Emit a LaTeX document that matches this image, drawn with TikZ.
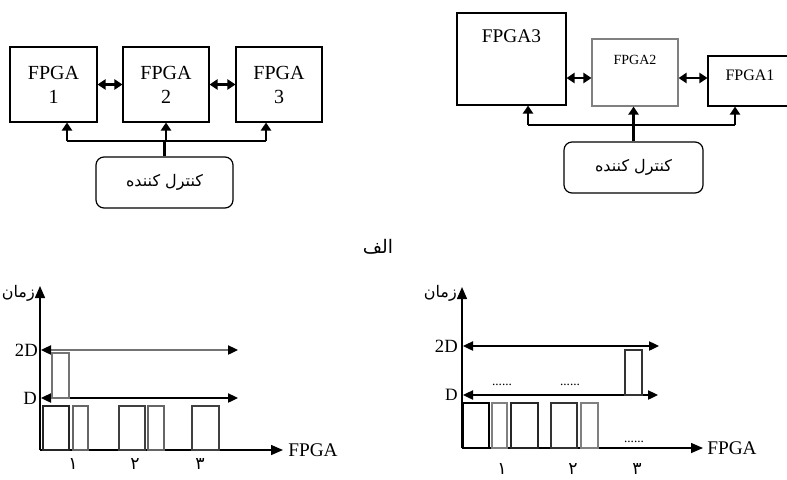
\documentclass[tikz,border=0pt]{standalone}
\usepackage{fontspec}
\setmainfont{Liberation Serif}
\newfontfamily\farsi[Script=Arabic]{DejaVu Sans}
\TeXXeTstate=1
\usetikzlibrary{arrows.meta}
\begin{document}
\begin{tikzpicture}[x=0.75pt, y=-0.75pt,
	fpga/.style={draw, line width=0.8pt, inner sep=0pt, align=center,
		font=\fontsize{15}{18}\selectfont},
	ctrl/.style={draw, line width=0.9pt, rounded corners=6pt, inner sep=0pt,
		font=\fontsize{12}{14}\selectfont\farsi},
	lbl/.style={anchor=north, inner sep=0pt},
	dbl/.style={line width=1.7pt, {Triangle[length=6pt,width=7.5pt]}-{Triangle[length=6pt,width=7.5pt]}},
	up/.style={line width=1.7pt, -{Triangle[length=6pt,width=7.5pt]}},
	bus/.style={line width=1.7pt},
	axis/.style={line width=1.1pt, -{Triangle[length=9pt,width=7.5pt]}},
	level/.style={line width=0.9pt, {Triangle[length=7.5pt,width=7pt,color=black]}-{Triangle[length=7.5pt,width=7pt,color=black]}},
	bar/.style={draw=black!75, line width=0.9pt},
	tick/.style={inner sep=0pt, font=\fontsize{13}{15}\selectfont\farsi},
	val/.style={anchor=east, inner sep=0pt, font=\fontsize{14}{16}\selectfont}]
	\useasboundingbox (0,0) rectangle (787,479);
	\clip (0,0) rectangle (787,479);

	% top left: three FPGA in a row
	\node[fpga, minimum width=65.25pt, minimum height=56.25pt] (f1) at (53.5,84.5) {FPGA\\1};
	\node[fpga, minimum width=64.5pt, minimum height=56.25pt] (f2) at (166,84.5) {FPGA\\2};
	\node[fpga, minimum width=64.5pt, minimum height=56.25pt] (f3) at (279,84.5) {FPGA\\3};
	\node[ctrl, minimum width=102.75pt, minimum height=38.25pt] (c1) at (164.5,182.5) {\beginR کنترل کننده\endR};
	\coordinate (b1) at (67,141);
	\coordinate (b3) at (266,141);
	\draw[dbl] (f1) -- (f2);
	\draw[dbl] (f2) -- (f3);
	\draw[bus] (b1) -- (b3);
	\draw[bus] (c1.north) -- (c1.north |- b1);
	\draw[up] (b1) -- (b1 |- f1.south);
	\draw[up] (f2.south |- b1) -- (f2.south);
	\draw[up] (b3) -- (b3 |- f3.south);

	% top right: FPGA of different sizes
	\node[fpga, minimum width=81.75pt, minimum height=69pt,
		label={[lbl, yshift=-12.75pt, font=\fontsize{14.5}{16}\selectfont]north:FPGA3}] (g3) at (511.5,59) {};
	\node[fpga, draw=black!50, minimum width=64.5pt, minimum height=50.25pt,
		label={[lbl, yshift=-12pt, font=\fontsize{10.5}{12}\selectfont]north:FPGA2}] (g2) at (635,72.5) {};
	\node[fpga, minimum width=63pt, minimum height=37.5pt,
		label={[lbl, yshift=-10.5pt, font=\fontsize{12}{14}\selectfont]north:FPGA1}] (g1) at (750,81) {};
	\node[ctrl, minimum width=104.25pt, minimum height=38.25pt] (c2) at (633.5,167.5) {\beginR کنترل کننده\endR};
	\coordinate (m) at (0,78);
	\coordinate (d1) at (528,125);
	\coordinate (d3) at (735,125);
	\draw[dbl] (g3.east |- m) -- (g2.west |- m);
	\draw[dbl] (g2.east |- m) -- (g1.west |- m);
	\draw[bus] (d1) -- (d3);
	\draw[bus] (c2.north) -- (c2.north |- d1);
	\draw[up] (d1) -- (d1 |- g3.south);
	\draw[up] (c2.north |- d1) -- (c2.north |- g2.south);
	\draw[up] (d3) -- (d3 |- g1.south);

	\node[tick, font=\fontsize{14}{16}\selectfont\farsi] (alef) at (378,247) {\beginR الف\endR};

	% bottom left: time chart
	\draw[axis] (40,450) -- (40,286);
	\draw[axis] (40,450) -- (283,450);
	\draw[level, draw=black!55] (41,350) -- (238,350);
	\draw[level] (41,398) -- (238,398);
	\draw[bar, draw=black!85] (43,406) rectangle (69,450);
	\draw[bar, draw=black!60] (73,406) rectangle (88,450);
	\draw[bar] (119,406) rectangle (145,450);
	\draw[bar, draw=black!60] (148,406) rectangle (164,450);
	\draw[bar] (192,406) rectangle (219,450);
	\draw[bar, draw=black!55] (52,353) rectangle (69,398);
	\node[val] (p2d) at (38,350) {2D};
	\node[val] (pd) at (37,398) {D};
	\node[tick, anchor=east, font=\fontsize{12}{14}\selectfont\farsi] (pt) at (35,293) {\beginR زمان\endR};
	\node[anchor=west, inner sep=0pt, font=\fontsize{14.5}{16}\selectfont] (px) at (288,450) {FPGA};
	\node[tick] (p1) at (73,464) {۱};
	\node[tick] (p2) at (135,464) {۲};
	\node[tick] (p3) at (200,464) {۳};

	% bottom right: time chart
	\draw[axis] (462,448) -- (462,287);
	\draw[axis] (462,448) -- (703,448);
	\draw[level] (463,346) -- (659,346);
	\draw[level] (463,395) -- (658,395);
	\draw[bar, draw=black] (463,403) rectangle (489,448);
	\draw[bar, draw=black!50] (492,403) rectangle (507,448);
	\draw[bar, draw=black!85] (511,403) rectangle (538,448);
	\draw[bar, draw=black!80] (551,403) rectangle (577,448);
	\draw[bar, draw=black!50] (581,403) rectangle (598,448);
	\draw[bar, draw=black!80] (625,350) rectangle (642,395);
	\node[inner sep=0pt, font=\fontsize{10}{10}\selectfont] (q4) at (502,385) {......};
	\node[inner sep=0pt, font=\fontsize{10}{10}\selectfont] (q5) at (570,385) {......};
	\node[inner sep=0pt, font=\fontsize{10}{10}\selectfont] (q6) at (634,442) {......};
	\node[val] (q2d) at (458,346) {2D};
	\node[val, font=\fontsize{13}{15}\selectfont] (qd) at (458,395) {D};
	\node[tick, anchor=east, font=\fontsize{12}{14}\selectfont\farsi] (qt) at (457,293) {\beginR زمان\endR};
	\node[anchor=west, inner sep=0pt, font=\fontsize{14.5}{16}\selectfont] (qx) at (707,448) {FPGA};
	\node[tick] (q1) at (502,469) {۱};
	\node[tick] (q2) at (573,469) {۲};
	\node[tick] (q3) at (637,469) {۳};
\end{tikzpicture}
\end{document}
